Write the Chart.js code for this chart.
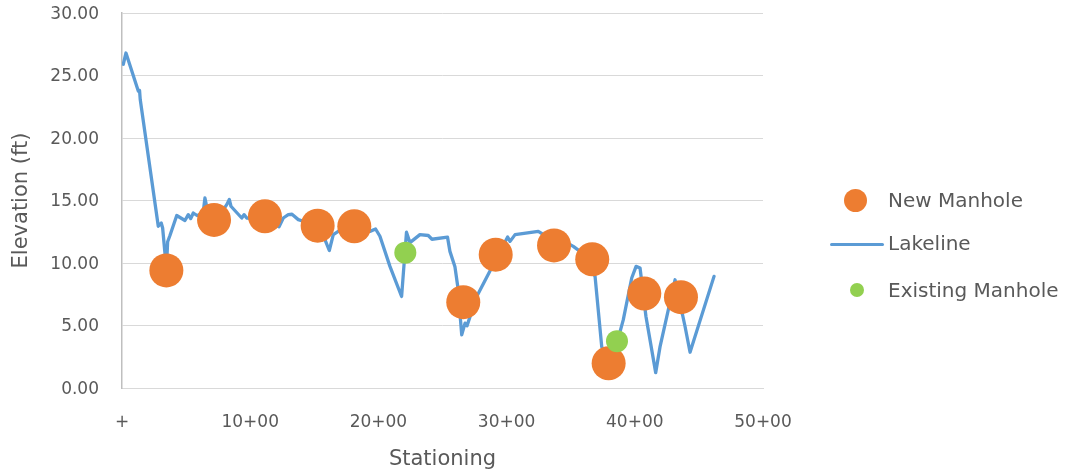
<!DOCTYPE html>
<html>
<head>
<meta charset="utf-8">
<script src="https://cdn.jsdelivr.net/npm/chart.js@4"></script>
<style>
  html, body { margin: 0; padding: 0; background: #fff; }
  #wrap { position: relative; width: 1070px; height: 476px; }
  #wrap canvas { position: absolute; left: 0; top: 0; }
  .lg { position: absolute; font-family: "DejaVu Sans", sans-serif; font-size: 20px; color: #595959; line-height: 24px; white-space: nowrap; }
  .dot { position: absolute; border-radius: 50%; }
  .ln { position: absolute; height: 3px; background: #5b9bd5; border-radius: 2px; }
</style>
</head>
<body>
<div id="wrap">
  <canvas id="c" width="1070" height="476"></canvas>
  <div class="dot" style="left:844px; top:189px; width:23px; height:23px; background:#ed7d31;"></div>
  <div class="lg" style="left:888px; top:188px;">New Manhole</div>
  <div class="ln" style="left:830px; top:243px; width:54px;"></div>
  <div class="lg" style="left:888px; top:231px;">Lakeline</div>
  <div class="dot" style="left:850px; top:283px; width:14px; height:14px; background:#92d050;"></div>
  <div class="lg" style="left:888px; top:278px;">Existing Manhole</div>
</div>
<script>
// ---- data ----
const lakeX = [10,31,127,137,142,283,306,317,335,347,356,374,427,491,517,536,556,585,632,647,661,710,780,817,837,850,889,934,952,973,1037,1154,1225,1258,1297,1326,1375,1427,1560,1583,1617,1648,1687,1739,1895,1934,1978,2012,2090,2181,2219,2246,2324,2389,2418,2539,2558,2597,2619,2650,2676,2691,2767,3008,3027,3066,3247,3300,3456,3520,3573,3690,3742,3780,3885,3910,3976,4010,4041,4087,4163,4197,4314,4392,4431,4618];
const lakeY = [25.9,26.8,23.76,23.8,23.1,12.94,13.2,12.8,10.8,9.6,11.7,12.2,13.8,13.4,13.87,13.55,14.0,13.8,13.95,15.2,14.5,13.95,14.1,14.67,15.08,14.54,14.1,13.6,13.87,13.6,13.55,13.3,12.9,13.6,13.87,13.9,13.47,13.3,12.7,11.87,11.0,12.27,12.53,12.67,12.6,12.53,12.72,12.14,9.73,7.32,12.46,11.63,12.27,12.2,11.9,12.07,10.93,9.7,8.12,4.25,5.19,4.97,7.32,12.08,11.73,12.27,12.53,12.2,11.7,11.33,10.93,8.93,3.31,2.3,4.51,5.45,8.8,9.73,9.6,5.72,1.23,3.31,8.66,4.92,2.86,8.93];

const newMhX = [346,718,1115,1526,1812,2662,2915,3370,3668,3796,4074,4360];
const newMhY = [9.41,13.45,13.74,12.99,12.94,6.87,10.67,11.41,10.3,1.98,7.56,7.27];

const existMhX = [2210,3861];
const existMhY = [10.83,3.75];

const xTickValues = [0,1000,2000,3000,4000,5000];
const xTickLabels = ['+','10+00','20+00','30+00','40+00','50+00'];
const yTickValues = [0,5,10,15,20,25,30];
const yTickLabels = ['0.00','5.00','10.00','15.00','20.00','25.00','30.00'];

const pts = (xs, ys) => xs.map((x, i) => ({x: x, y: ys[i]}));

const FONT = '"DejaVu Sans", sans-serif';
const TXT = '#595959';

new Chart(document.getElementById('c'), {
  type: 'scatter',
  data: {
    datasets: [
      {
        label: 'New Manhole',
        data: pts(newMhX, newMhY),
        backgroundColor: '#ed7d31',
        borderWidth: 0,
        pointRadius: 17,
        pointHoverRadius: 17,
        order: 1
      },
      {
        label: 'Lakeline',
        data: pts(lakeX, lakeY),
        showLine: true,
        borderColor: '#5b9bd5',
        backgroundColor: '#5b9bd5',
        borderWidth: 3.3,
        pointRadius: 0,
        pointHoverRadius: 0,
        tension: 0,
        borderJoinStyle: 'round',
        borderCapStyle: 'round',
        order: 3
      },
      {
        label: 'Existing Manhole',
        data: pts(existMhX, existMhY),
        backgroundColor: '#92d050',
        borderWidth: 0,
        pointRadius: 11,
        pointHoverRadius: 11,
        order: 0
      }
    ]
  },
  options: {
    responsive: false,
    animation: false,
    devicePixelRatio: 1,
    layout: { autoPadding: false, padding: { top: 13, right: 307, bottom: 0, left: 0 } },
    plugins: { legend: { display: false }, tooltip: { enabled: false } },
    scales: {
      x: {
        type: 'linear',
        min: 0, max: 5000,
        afterFit: (s) => { s.height = 88; },
        afterBuildTicks: (s) => { s.ticks = xTickValues.map(v => ({value: v})); },
        grid: { display: false, drawTicks: false },
        border: { display: true, color: '#d9d9d9', width: 1 },
        ticks: {
          autoSkip: false,
          maxRotation: 0,
          padding: 24,
          color: TXT,
          font: { family: FONT, size: 17 },
          callback: (v) => { const i = xTickValues.indexOf(v); return i >= 0 ? xTickLabels[i] : ''; }
        },
        title: {
          display: true,
          text: 'Stationing',
          color: TXT,
          font: { family: FONT, size: 21 },
          padding: { top: 0, bottom: 4 }
        }
      },
      y: {
        type: 'linear',
        min: 0, max: 30,
        afterFit: (s) => { s.width = 122; s.paddingTop = 0; s.paddingBottom = 0; },
        afterBuildTicks: (s) => { s.ticks = yTickValues.map(v => ({value: v})); },
        grid: { color: '#d9d9d9', lineWidth: 1, drawTicks: false },
        border: { display: true, color: '#bfbfbf', width: 1.5 },
        ticks: {
          padding: 23,
          labelOffset: 1.5,
          color: TXT,
          font: { family: FONT, size: 17 },
          callback: (v) => { const i = yTickValues.indexOf(v); return i >= 0 ? yTickLabels[i] : ''; }
        },
        title: {
          display: true,
          text: 'Elevation (ft)',
          color: TXT,
          font: { family: FONT, size: 21 },
          padding: { top: 9, bottom: 0 }
        }
      }
    }
  }
});
</script>
</body>
</html>
